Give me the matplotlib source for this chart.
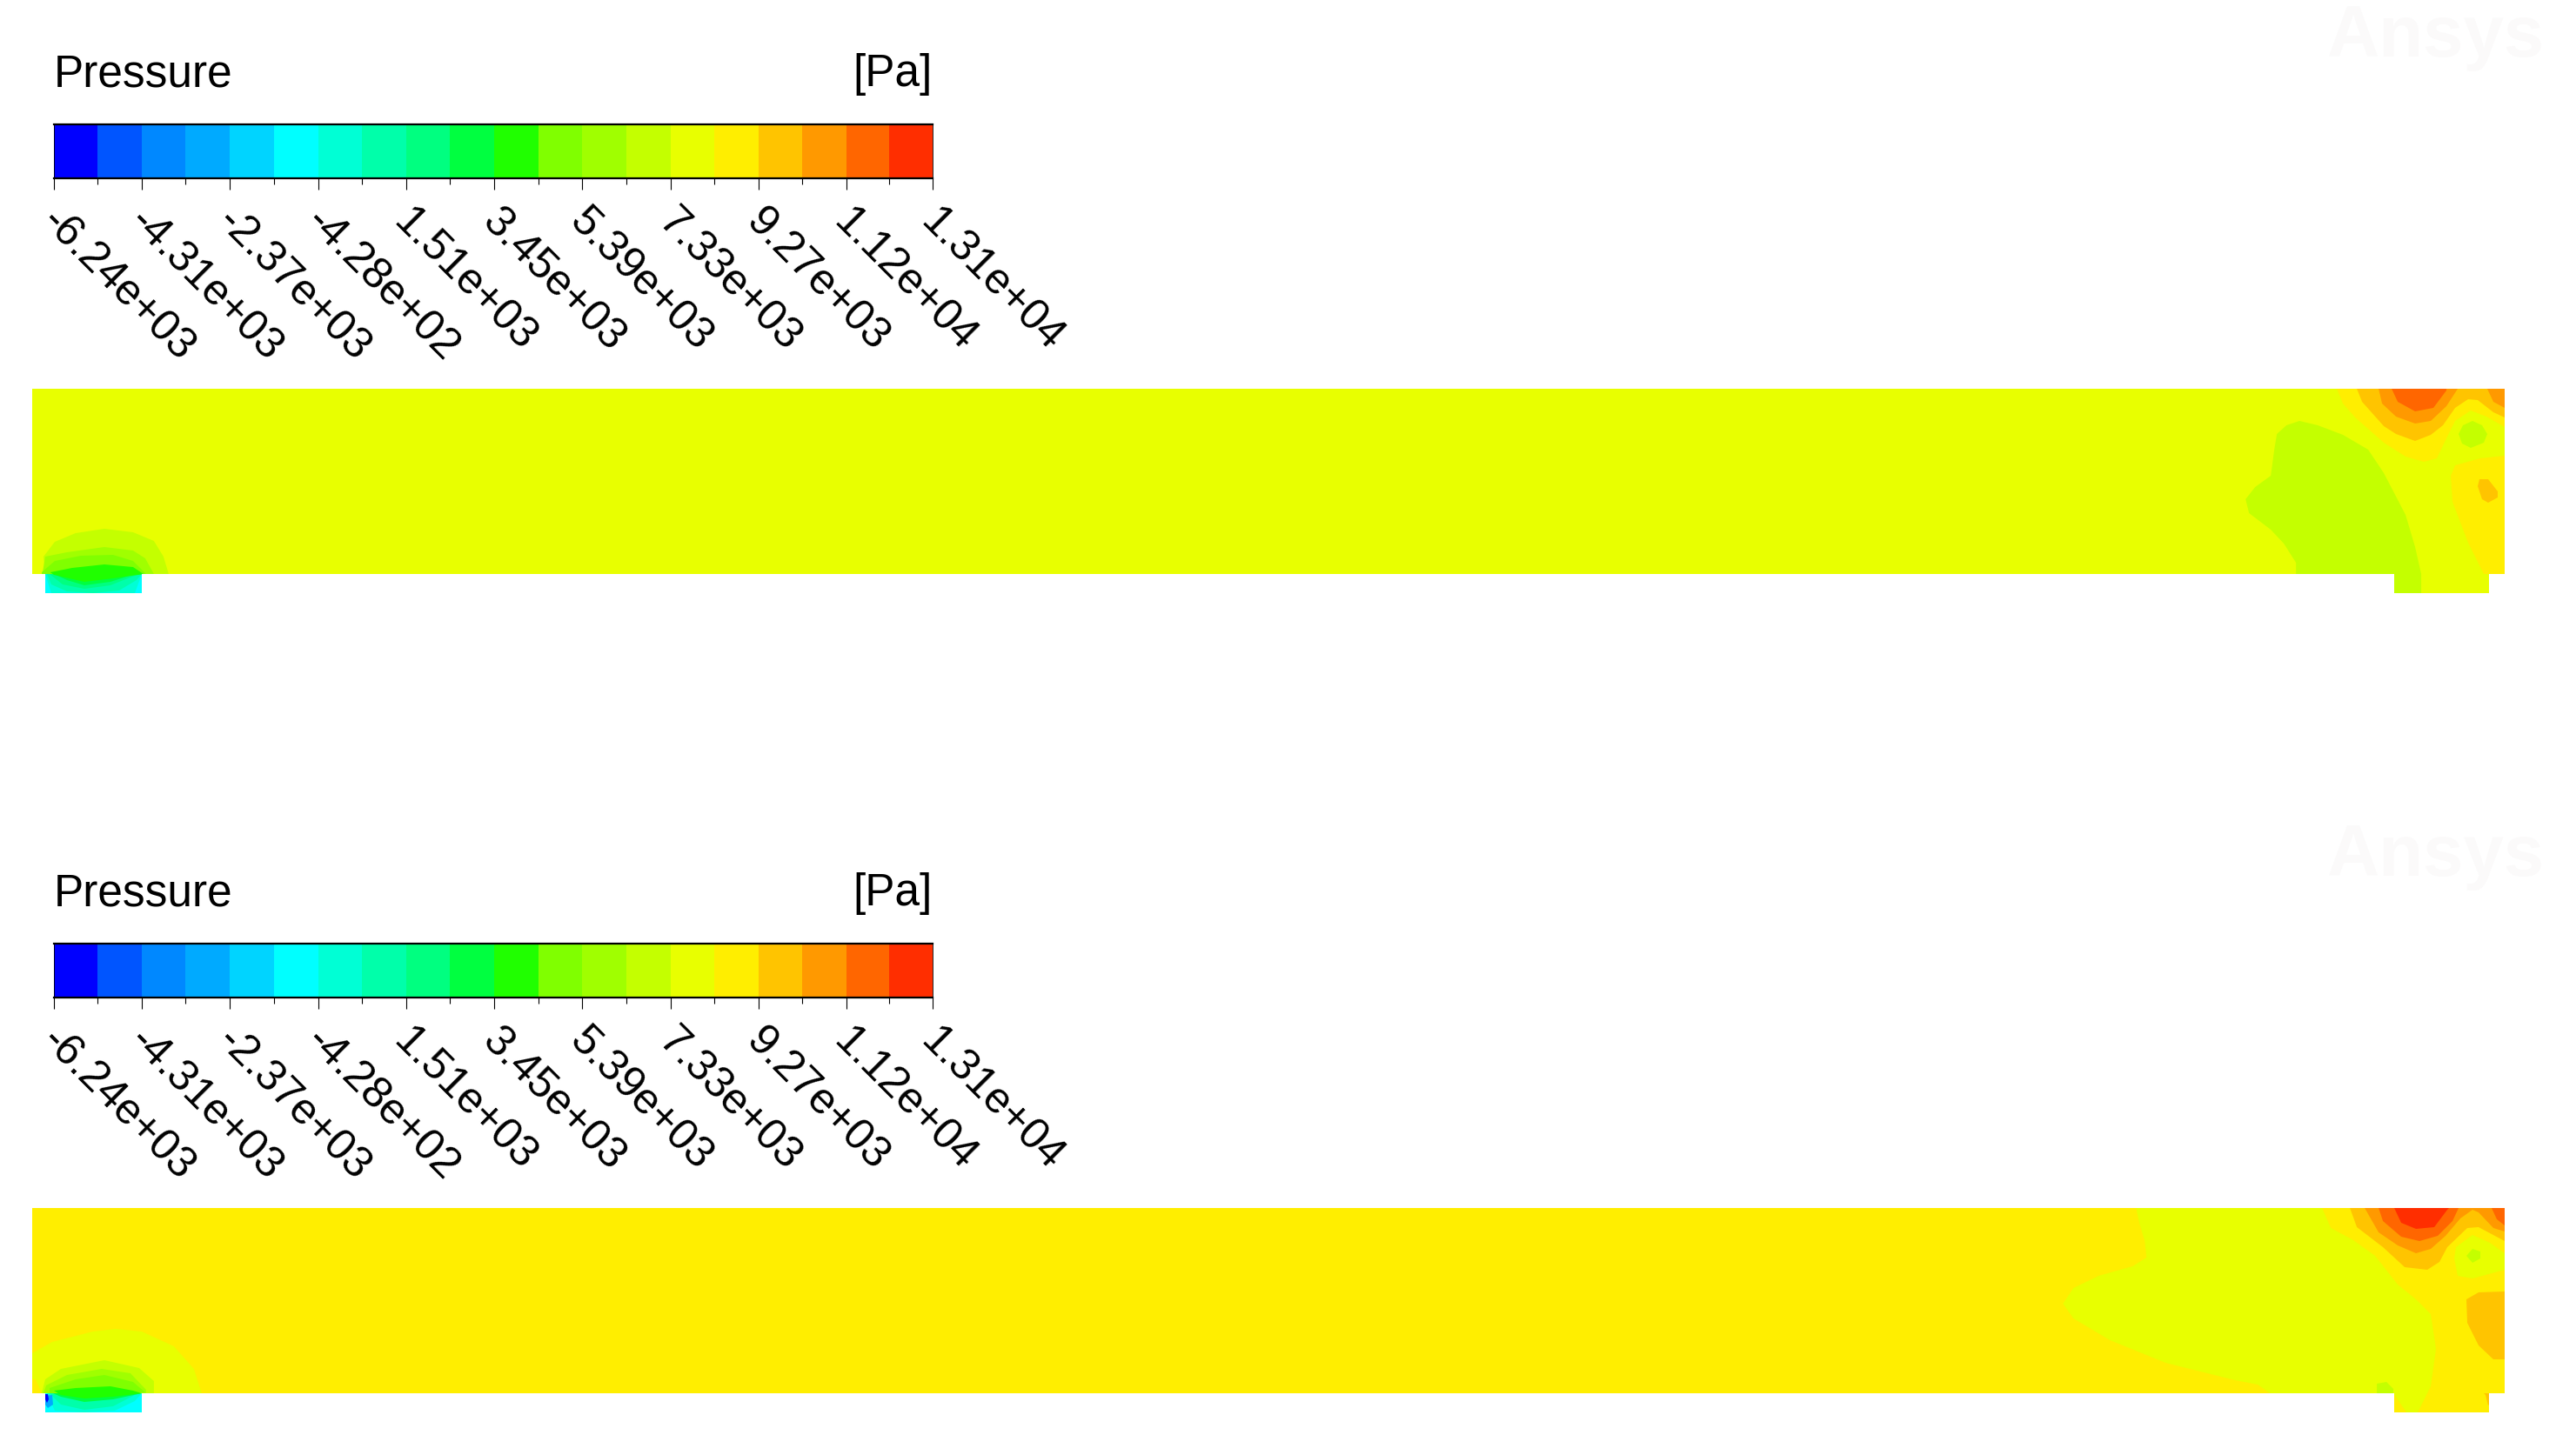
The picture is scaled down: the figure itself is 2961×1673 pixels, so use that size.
import numpy as np
import matplotlib
matplotlib.use('Agg')
import matplotlib.pyplot as plt
from matplotlib.colors import ListedColormap, BoundaryNorm
from matplotlib.patches import Polygon

plt.rcParams['font.family'] = ['Liberation Sans', 'DejaVu Sans']

# colour bands of the legend, low to high
band_colors = ['#0000ff', '#0055ff', '#0088ff', '#00aaff', '#00d4ff',
               '#00ffff', '#00ffd5', '#00ffaa', '#00ff80', '#00ff40',
               '#20ff00', '#80ff00', '#a0ff00', '#c4ff00', '#e8ff00',
               '#ffee00', '#ffc400', '#ff9900', '#ff6600', '#ff2e00']
tick_values = [-6240, -4310, -2370, -428, 1510, 3450, 5390, 7330, 9270, 11200, 13100]
tick_labels = ['-6.24e+03', '-4.31e+03', '-2.37e+03', '-4.28e+02', '1.51e+03', '3.45e+03',
               '5.39e+03', '7.33e+03', '9.27e+03', '1.12e+04', '1.31e+04']

# duct outline, x along the duct, y down from the top wall (mm-like units)
duct = [(0, 0), (2844, 0), (2844, 213), (2826, 213), (2826, 235), (2717, 235), (2717, 213),
        (126, 213), (126, 235), (15, 235), (15, 213), (0, 213)]

# contour regions: (band, outline), painted in order
# upper case, base band 14
top_inlet_base = [(15, 213), (126, 213), (126, 235), (15, 235)]
top_inlet_edge_l = [(15, 213), (22, 235), (15, 235)]
top_inlet_edge_r = [(126, 213), (126, 235), (118, 235)]
top_in_7 = [(17, 213), (22, 225), (40, 233), (70, 235), (100, 232), (120, 220), (126, 213)]
top_in_8 = [(20, 213), (35, 225), (60, 230), (90, 226), (115, 216), (126, 213)]
top_in_9 = [(21, 211), (40, 220), (60, 226), (90, 222), (115, 214), (128, 213)]
top_in_10 = [(21, 211), (46, 206), (83, 202), (116, 205), (128, 213), (93, 218), (60, 222), (25, 214)]
top_in_11 = [(11, 213), (11, 211), (26, 198), (56, 192), (93, 191), (116, 198), (131, 213)]
top_in_12 = [(12, 213), (12, 211), (15, 193), (40, 188), (83, 182), (116, 186), (130, 195), (140, 213)]
top_in_13 = [(15, 213), (13, 193), (26, 176), (50, 166), (83, 161), (116, 165), (140, 175), (151, 193), (157, 213)]
top_blob = [(2604, 213), (2604, 200), (2590, 178), (2575, 162), (2550, 143), (2546, 127), (2557, 113),
            (2575, 100), (2579, 70), (2582, 52), (2593, 42), (2608, 37), (2629, 42), (2658, 53), (2687, 70),
            (2705, 97), (2730, 145), (2741, 182), (2748, 213), (2748, 235), (2717, 235), (2717, 213)]
top_hot_15 = [(2651, 0), (2658, 17), (2672, 33), (2705, 62), (2730, 78), (2751, 84), (2766, 80), (2777, 57),
              (2787, 37), (2805, 25), (2823, 32), (2844, 44), (2844, 0)]
top_hot_16 = [(2674, 0), (2680, 15), (2705, 43), (2719, 52), (2741, 60), (2759, 53), (2773, 42), (2787, 22),
              (2802, 12), (2813, 13), (2831, 27), (2844, 33), (2844, 0)]
top_hot_17 = [(2699, 0), (2703, 17), (2719, 32), (2741, 40), (2759, 37), (2777, 20), (2790, 0)]
top_corner_17 = [(2824, 0), (2831, 15), (2844, 22), (2844, 0)]
top_hot_18 = [(2714, 0), (2721, 15), (2741, 26), (2762, 22), (2777, 2), (2777, 0)]
top_spot_13 = [(2791, 52), (2796, 42), (2807, 37), (2818, 42), (2824, 52), (2820, 62), (2805, 68), (2795, 63)]
top_right_15 = [(2820, 213), (2802, 177), (2784, 130), (2782, 100), (2787, 88), (2816, 80), (2844, 77), (2844, 213)]
top_right_16 = [(2813, 112), (2815, 104), (2825, 104), (2836, 118), (2836, 125), (2825, 131), (2818, 127)]

top_regions = [(14, duct), (6, top_inlet_base), (5, top_inlet_edge_l), (5, top_inlet_edge_r), (13, top_in_13),
               (12, top_in_12), (11, top_in_11), (7, top_in_7), (8, top_in_8), (9, top_in_9), (10, top_in_10),
               (13, top_blob), (15, top_hot_15), (16, top_hot_16), (17, top_hot_17), (17, top_corner_17),
               (18, top_hot_18), (13, top_spot_13), (15, top_right_15), (16, top_right_16)]

# lower case, base band 15
low_inlet_base = [(15, 213), (126, 213), (126, 235), (15, 235)]
low_in_6 = [(17, 213), (26, 233), (60, 235), (95, 233), (118, 222), (126, 213)]
low_in_7 = [(20, 213), (33, 226), (60, 232), (93, 228), (118, 215), (126, 213)]
low_in_9 = [(24, 213), (33, 217), (60, 223), (93, 220), (126, 213)]
low_in_10 = [(25, 210), (50, 207), (90, 205), (116, 210), (126, 213), (93, 217), (60, 219), (33, 215)]
low_in_11 = [(20, 207), (50, 197), (83, 192), (116, 200), (130, 212), (20, 213)]
low_in_12 = [(13, 213), (16, 204), (40, 192), (80, 185), (113, 190), (131, 209), (131, 213)]
low_in_13 = [(11, 213), (15, 197), (33, 185), (83, 175), (123, 184), (140, 199), (140, 213)]
low_in_14 = [(0, 167), (23, 154), (70, 142), (96, 139), (126, 142), (163, 159), (186, 185), (195, 213), (0, 213)]
low_wedge_15 = [(0, 197), (4, 197), (11, 213), (0, 213)]
low_spot_3 = [(14, 216), (23, 215), (24, 226), (18, 230), (15, 226)]
low_spot_0 = [(15, 214), (18, 214), (19, 220), (17, 224), (15, 220)]
low_blob = [(2420, 0), (2424, 18), (2430, 38), (2432, 57), (2416, 67), (2377, 78), (2348, 92), (2336, 110),
            (2348, 127), (2390, 152), (2454, 178), (2534, 198), (2560, 203), (2574, 213), (2716, 213),
            (2731, 235), (2744, 235), (2759, 205), (2765, 162), (2759, 122), (2742, 105), (2721, 88),
            (2695, 55), (2670, 37), (2644, 23), (2634, 0)]
low_spot_bottom = [(2697, 213), (2697, 202), (2708, 200), (2716, 208), (2716, 213)]
low_hot_16 = [(2666, 0), (2674, 22), (2704, 45), (2729, 68), (2755, 71), (2769, 62), (2778, 45), (2801, 23),
              (2814, 22), (2844, 38), (2844, 0)]
low_hot_17 = [(2683, 0), (2699, 28), (2721, 43), (2742, 52), (2759, 47), (2776, 32), (2793, 12), (2807, 2),
              (2814, 5), (2831, 23), (2844, 27), (2844, 0)]
low_hot_18 = [(2699, 0), (2704, 15), (2725, 33), (2746, 38), (2767, 32), (2784, 15), (2791, 0)]
low_corner_18 = [(2829, 0), (2835, 13), (2844, 20), (2844, 0)]
low_hot_19 = [(2717, 0), (2725, 17), (2742, 24), (2763, 22), (2778, 2), (2780, 0)]
low_eye_14 = [(2786, 58), (2788, 45), (2807, 31), (2827, 40), (2844, 52), (2844, 71), (2807, 81), (2790, 78)]
low_eye_13 = [(2800, 55), (2807, 47), (2816, 50), (2816, 58), (2807, 63)]
low_right_16 = [(2800, 105), (2814, 97), (2844, 96), (2844, 174), (2831, 174), (2814, 158), (2801, 132)]
low_outlet_16 = [(2820, 213), (2829, 213), (2829, 222), (2825, 227), (2822, 215)]

low_regions = [(15, duct), (5, low_inlet_base), (6, low_in_6), (7, low_in_7), (14, low_in_14), (15, low_wedge_15),
               (13, low_in_13), (12, low_in_12), (11, low_in_11), (9, low_in_9), (10, low_in_10),
               (3, low_spot_3), (0, low_spot_0), (14, low_blob), (13, low_spot_bottom), (16, low_hot_16),
               (17, low_hot_17), (18, low_hot_18), (18, low_corner_18), (19, low_hot_19), (14, low_eye_14),
               (13, low_eye_13), (16, low_right_16), (16, low_outlet_16)]

W, H = 2961, 1673
fig = plt.figure(figsize=(W / 100, H / 100), dpi=100)


def rect(x0, y0, x1, y1):
    return [x0 / W, 1 - y1 / H, (x1 - x0) / W, (y1 - y0) / H]


def draw_panel(dy, regions):
    # title, unit and watermark
    fig.text(62 / W, 1 - (99 + dy) / H, 'Pressure', fontsize=37, color='black', va='baseline')
    fig.text(1072 / W, 1 - (99 + dy) / H, '[Pa]', fontsize=37, color='black', ha='right', va='baseline')
    fig.text(2675 / W, 1 - (65 + dy) / H, 'Ansys', fontsize=60, fontweight='bold', color='#fbfafa', va='baseline')

    # legend bar
    cax = fig.add_axes(rect(62, 143 + dy, 1072, 205 + dy))
    major = np.array(tick_values, dtype=float)
    mids = (major[:-1] + major[1:]) / 2
    edges = np.sort(np.concatenate([major, mids]))
    cmap = ListedColormap(band_colors)
    norm = BoundaryNorm(np.arange(21) - 0.5, 20)
    cax.pcolormesh(edges, [0, 1], np.arange(20).reshape(1, -1), cmap=cmap, norm=norm)
    cax.set_yticks([])
    cax.set_xticks(major)
    cax.set_xticklabels([])
    # labels sit a bit left of their ticks, so annotate rather than tick labels
    for v, lab in zip(major, tick_labels):
        cax.annotate(lab, xy=(v, 0), xycoords=('data', 'axes fraction'), xytext=(-5, -31),
                     textcoords='offset points', rotation=-45, rotation_mode='anchor',
                     ha='left', va='center', fontsize=36)
    cax.set_xticks(mids, minor=True)
    cax.tick_params(axis='x', which='major', length=9.5, width=0.8)
    cax.tick_params(axis='x', which='minor', length=5, width=0.8)
    for side in ['left', 'right']:
        cax.spines[side].set_linewidth(0.6)
    for side in ['top', 'bottom']:
        cax.spines[side].set_linewidth(1.6)

    # pressure contours on the duct section
    ax = fig.add_axes(rect(37, 447 + dy, 2879, 682 + dy))
    ax.set_xlim(0, 2844)
    ax.set_ylim(235, 0)
    ax.axis('off')
    clip = Polygon(duct, closed=True, transform=ax.transData)
    for band, pts in regions:
        p = Polygon(pts, closed=True, facecolor=band_colors[band], edgecolor='none', linewidth=0)
        ax.add_patch(p)
        p.set_clip_path(clip)


draw_panel(0, top_regions)
draw_panel(942, low_regions)

fig.savefig('out.png', dpi=100, facecolor='white')
